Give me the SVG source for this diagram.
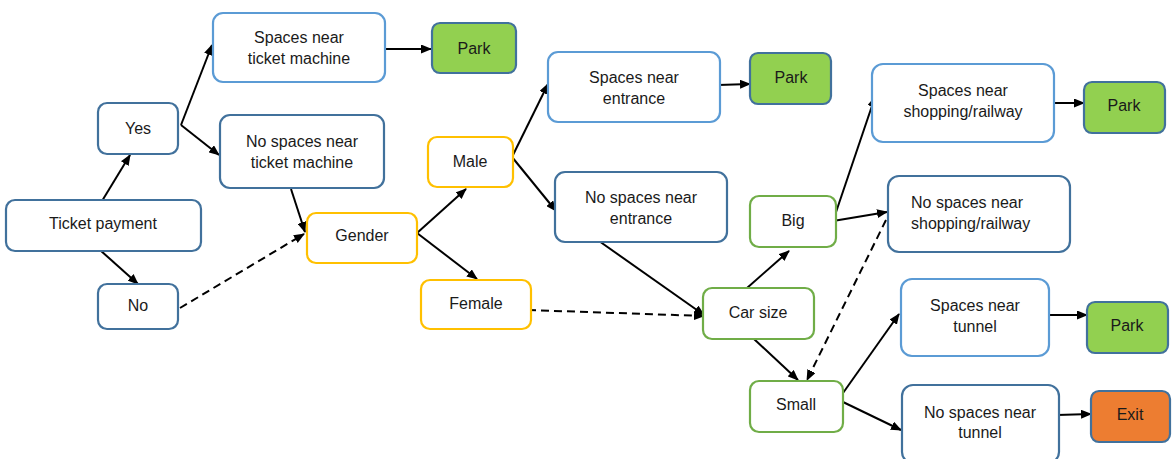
<svg xmlns="http://www.w3.org/2000/svg" width="1173" height="459" viewBox="0 0 1173 459">
<style>
.n rect{fill:#fff;stroke-width:2.2}
.lb{stroke:#5B9BD5}
.db{stroke:#41719C}
.yl{stroke:#FFC000}
.gr{stroke:#70AD47}
.park rect{fill:#92D050;stroke:#41719C}
.exit rect{fill:#ED7D31;stroke:#41719C}
text{font-family:"Liberation Sans",Arial,sans-serif;font-size:16px;fill:#1a1a1a;text-anchor:middle}
.c line{stroke:#000;stroke-width:2;marker-end:url(#a)}
.c .d{stroke-dasharray:8 5}
</style>
<defs>
<marker id="a" markerWidth="11" markerHeight="9" refX="10" refY="4.5" orient="auto" markerUnits="userSpaceOnUse">
<path d="M0,0 L11,4.5 L0,9 z" fill="#000"/>
</marker>
</defs>
<rect width="1173" height="459" fill="#fff"/>
<g class="c" id="connectors">
<line x1="102" y1="201" x2="130" y2="155"/>
<line x1="100" y1="250" x2="138" y2="284"/>
<line x1="181" y1="125" x2="212" y2="45"/>
<line x1="181" y1="125" x2="219" y2="155"/>
<line x1="384" y1="49" x2="431" y2="49"/>
<line x1="291" y1="189" x2="305" y2="232"/>
<line class="d" x1="180" y1="308" x2="304" y2="234"/>
<line x1="417" y1="233" x2="466" y2="189"/>
<line x1="417" y1="233" x2="477" y2="279"/>
<line x1="512" y1="157" x2="548" y2="84"/>
<line x1="512" y1="157" x2="556" y2="211"/>
<line x1="718" y1="85" x2="750" y2="84"/>
<line x1="599" y1="241" x2="704" y2="315"/>
<line class="d" x1="528" y1="310" x2="704" y2="316"/>
<line x1="747" y1="288" x2="789" y2="251"/>
<line x1="754" y1="339" x2="798" y2="380"/>
<line x1="833" y1="221" x2="875" y2="97"/>
<line x1="833" y1="221" x2="887" y2="212"/>
<line class="d" x1="886" y1="220" x2="807" y2="380"/>
<line x1="1055" y1="103" x2="1084" y2="103"/>
<line x1="843" y1="393" x2="899" y2="314"/>
<line x1="843" y1="402" x2="901" y2="430"/>
<line x1="1048" y1="315" x2="1087" y2="315"/>
<line x1="1057" y1="415" x2="1091" y2="414"/>
</g>
<g id="ticket-payment" class="n"><rect class="db" x="6" y="200" width="195" height="51" rx="9"/><text x="103" y="229">Ticket payment</text></g>
<g id="yes" class="n"><rect class="db" x="98" y="103" width="80" height="51" rx="9"/><text x="138" y="134">Yes</text></g>
<g id="no" class="n"><rect class="db" x="98" y="284" width="80" height="45" rx="9"/><text x="138" y="311">No</text></g>
<g id="spaces-ticket" class="n"><rect class="lb" x="213" y="13" width="172" height="69" rx="10"/><text x="299" y="43">Spaces near</text><text x="299" y="64">ticket machine</text></g>
<g id="park1" class="n park"><rect x="432" y="23" width="84" height="50" rx="8"/><text x="474" y="53.5">Park</text></g>
<g id="nospaces-ticket" class="n"><rect class="db" x="220" y="115" width="164" height="73" rx="10"/><text x="302" y="147">No spaces near</text><text x="302" y="168">ticket machine</text></g>
<g id="gender" class="n"><rect class="yl" x="307" y="213" width="110" height="50" rx="9"/><text x="362" y="241">Gender</text></g>
<g id="male" class="n"><rect class="yl" x="428" y="137" width="85" height="50" rx="9"/><text x="470" y="167">Male</text></g>
<g id="female" class="n"><rect class="yl" x="421" y="280" width="110" height="49" rx="9"/><text x="476" y="309">Female</text></g>
<g id="spaces-entrance" class="n"><rect class="lb" x="548" y="52" width="172" height="70" rx="10"/><text x="634" y="83">Spaces near</text><text x="634" y="104">entrance</text></g>
<g id="park2" class="n park"><rect x="750" y="53" width="81" height="51" rx="8"/><text x="791" y="83">Park</text></g>
<g id="nospaces-entrance" class="n"><rect class="db" x="555" y="172" width="172" height="70" rx="10"/><text x="641" y="203">No spaces near</text><text x="641" y="224">entrance</text></g>
<g id="big" class="n"><rect class="gr" x="750" y="196" width="86" height="51" rx="9"/><text x="793" y="225.5">Big</text></g>
<g id="car-size" class="n"><rect class="gr" x="703" y="288" width="111" height="51" rx="9"/><text x="758" y="318">Car size</text></g>
<g id="small" class="n"><rect class="gr" x="750" y="381" width="93" height="51" rx="9"/><text x="796" y="409.5">Small</text></g>
<g id="spaces-shopping" class="n"><rect class="lb" x="872" y="64" width="182" height="78" rx="11"/><text x="963" y="95.5">Spaces near</text><text x="963" y="116.5">shopping/railway</text></g>
<g id="park3" class="n park"><rect x="1084" y="82" width="81" height="51" rx="8"/><text x="1124" y="111">Park</text></g>
<g id="nospaces-shopping" class="n"><rect class="db" x="888" y="176" width="182" height="76" rx="11"/><text x="911" y="207.5" style="text-anchor:start">No spaces near</text><text x="911" y="228.5" style="text-anchor:start">shopping/railway</text></g>
<g id="spaces-tunnel" class="n"><rect class="lb" x="901" y="279" width="148" height="77" rx="11"/><text x="975" y="310.5">Spaces near</text><text x="975" y="331.5">tunnel</text></g>
<g id="park4" class="n park"><rect x="1087" y="302" width="81" height="51" rx="8"/><text x="1127" y="331">Park</text></g>
<g id="nospaces-tunnel" class="n"><rect class="db" x="902" y="385" width="157" height="78" rx="11"/><text x="980" y="417.5">No spaces near</text><text x="980" y="438">tunnel</text></g>
<g id="exit" class="n exit"><rect x="1091" y="391" width="79" height="51" rx="8"/><text x="1130" y="419.5">Exit</text></g>
</svg>
